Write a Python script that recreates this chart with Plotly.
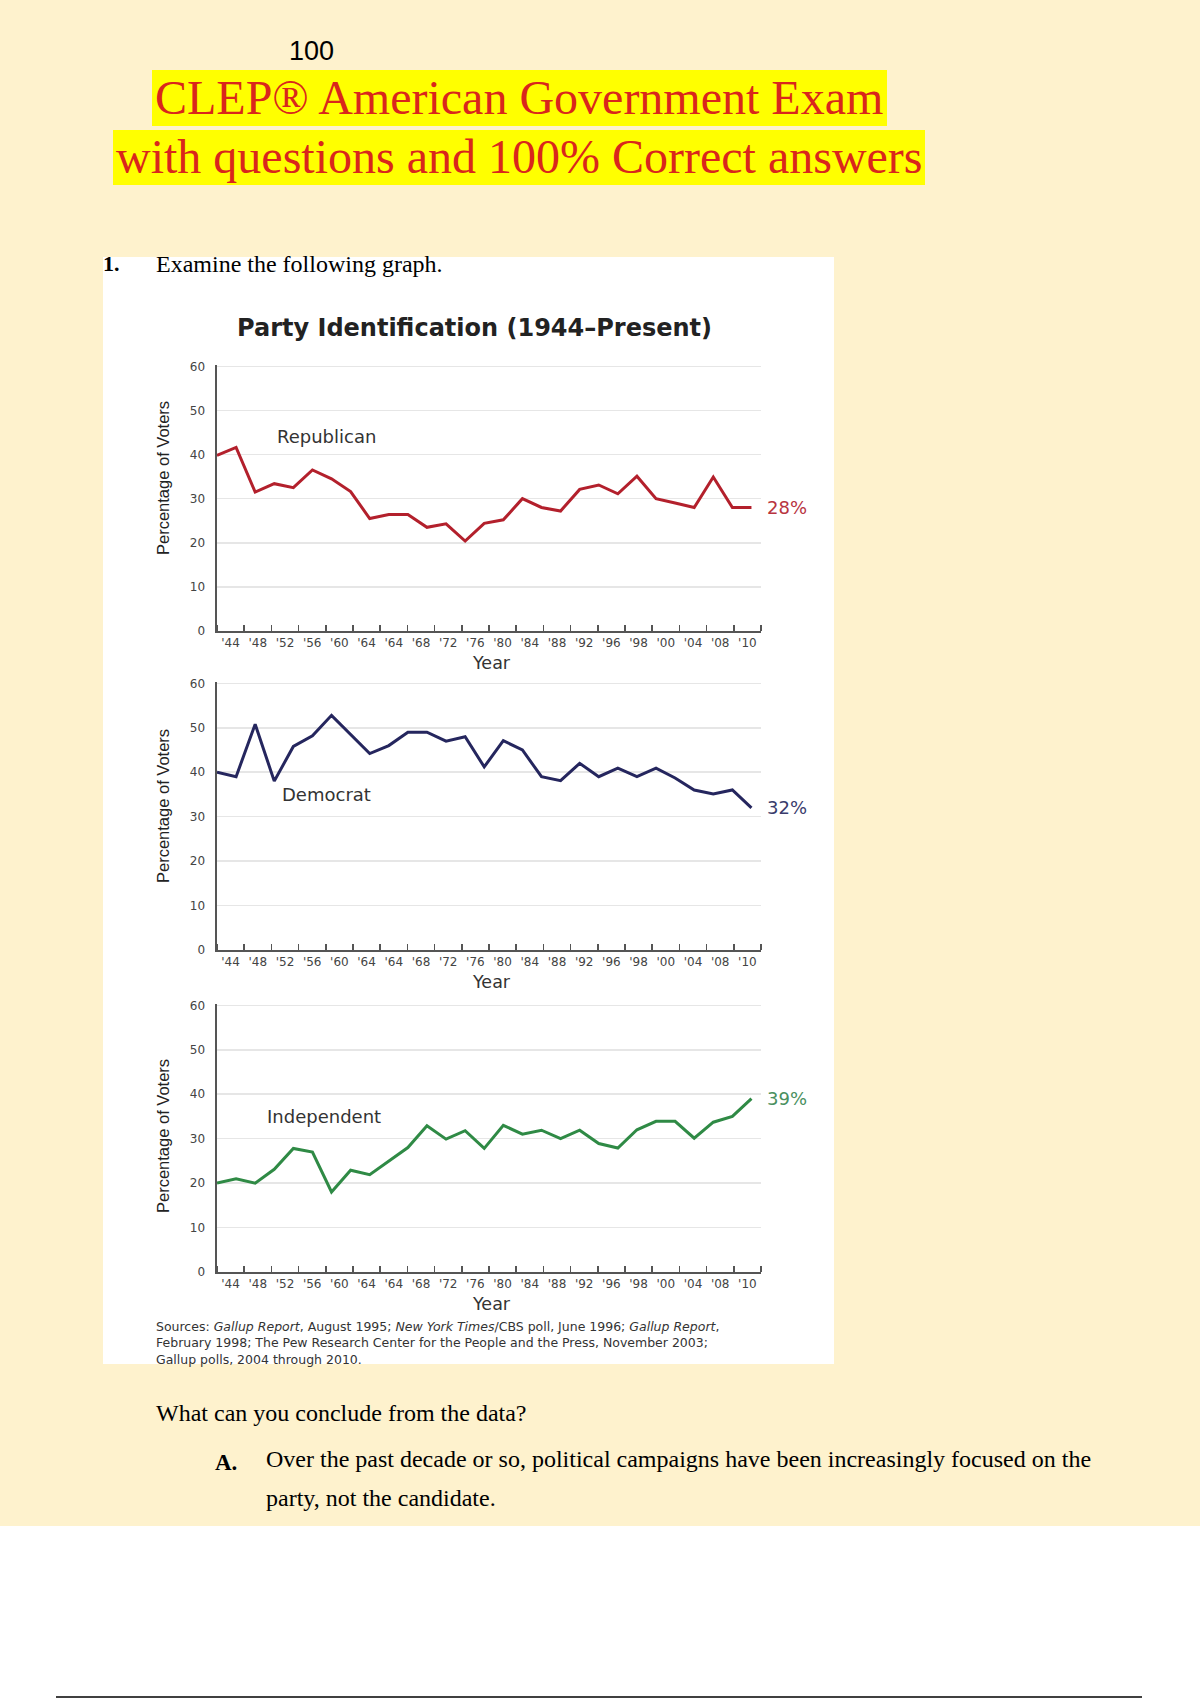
import plotly.graph_objects as go

W, H = 1200, 1700

# ---------------- data ----------------
year_labels = ["'44", "'48", "'52", "'56", "'60", "'64", "'64", "'68", "'72", "'76",
               "'80", "'84", "'88", "'92", "'96", "'98", "'00", "'04", "'08", "'10"]

republican = [39.8, 41.6, 31.5, 33.4, 32.5, 36.5, 34.5, 31.6, 25.5, 26.4,
              26.4, 23.5, 24.3, 20.4, 24.4, 25.2, 30.0, 28.0, 27.2, 32.1,
              33.1, 31.1, 35.1, 30.0, 29.0, 28.0, 34.9, 28.0, 28.0]
democrat = [40.0, 39.0, 50.8, 38.0, 45.8, 48.2, 52.8, 48.5, 44.2, 46.0,
            49.0, 49.0, 47.0, 48.0, 41.2, 47.1, 45.0, 39.0, 38.1, 42.0,
            39.0, 40.9, 39.0, 40.9, 38.7, 36.0, 35.1, 36.0, 32.0]
independent = [20.0, 21.0, 20.0, 23.1, 27.8, 27.0, 18.0, 22.9, 21.9, 24.9,
               28.0, 32.9, 29.9, 31.8, 27.8, 33.0, 31.0, 31.9, 30.0, 31.9,
               28.9, 27.9, 32.0, 33.9, 33.9, 30.1, 33.7, 35.0, 39.0]

series_names = ["Republican", "Democrat", "Independent"]
y_ticks = [0, 10, 20, 30, 40, 50, 60]

sources_lines = [
    "Sources: <i>Gallup Report</i>, August 1995; <i>New York Times</i>/CBS poll, June 1996; <i>Gallup Report</i>,",
    "February 1998; The Pew Research Center for the People and the Press, November 2003;",
    "Gallup polls, 2004 through 2010.",
]

# ---------------- styling ----------------
CREAM = "#fef2cd"
colors = ["#b3202c", "#25265e", "#2f8a45"]
label_colors = ["#b8343f", "#3a3c6c", "#4a9060"]
SANS = "DejaVu Sans"
SERIF = "Liberation Serif"

x_span = 28.5
n_lab = len(year_labels)
step = x_span / n_lab
label_pos = [(i + 0.5) * step for i in range(n_lab)]
bound_pos = [i * step for i in range(n_lab + 1)]

x_dom = [217 / W, 761 / W]
# (pixel of value 0, pixel of value 60)
y_px = [(631, 365), (950, 682), (1272, 1004)]


def py(y):
    return 1 - y / H


def px(x):
    return x / W


fig = go.Figure()
all_series = [republican, democrat, independent]
for i, (vals, name) in enumerate(zip(all_series, series_names)):
    sfx = "" if i == 0 else str(i + 1)
    fig.add_trace(go.Scatter(
        x=list(range(len(vals))), y=vals, mode="lines", name=name,
        line=dict(color=colors[i], width=3), xaxis="x" + sfx, yaxis="y" + sfx,
        showlegend=False, hoverinfo="skip"))

layout = dict(
    width=W, height=H, margin=dict(l=0, r=0, t=0, b=0, pad=0, autoexpand=False),
    paper_bgcolor=CREAM, plot_bgcolor="white", showlegend=False,
)

for i in range(3):
    sfx = "" if i == 0 else str(i + 1)
    y0, y60 = y_px[i]
    layout["xaxis" + sfx] = dict(
        domain=x_dom, range=[0, x_span], anchor="y" + sfx, automargin=False,
        tickmode="array", tickvals=label_pos, ticktext=year_labels, ticks="",
        tickfont=dict(family=SANS, size=12, color="#444"),
        showgrid=False, zeroline=False, showline=True, linecolor="#555", linewidth=2,
        minor=dict(tickmode="array", tickvals=bound_pos, ticks="inside", ticklen=6,
                   tickwidth=1.5, tickcolor="#555", showgrid=False),
        fixedrange=True,
    )
    layout["yaxis" + sfx] = dict(
        domain=[py(y0), py(y60)], range=[0, 60.3], anchor="x" + sfx, automargin=False,
        tickmode="array", tickvals=y_ticks, ticks="", ticklabelstandoff=7,
        tickfont=dict(family=SANS, size=12, color="#444"),
        showgrid=True, gridcolor="#e6e6e6", gridwidth=1.5, zeroline=False,
        showline=True, linecolor="#555", linewidth=2.5, fixedrange=True,
    )

fig.update_layout(**layout)

shapes = [
    dict(type="rect", xref="paper", yref="paper", x0=px(103), x1=px(834), y0=py(1364), y1=py(257),
         fillcolor="white", line=dict(width=0), layer="below"),
    dict(type="rect", xref="paper", yref="paper", x0=px(152), x1=px(887), y0=py(126), y1=py(70),
         fillcolor="#ffff00", line=dict(width=0), layer="below"),
    dict(type="rect", xref="paper", yref="paper", x0=px(113), x1=px(925), y0=py(185), y1=py(130),
         fillcolor="#ffff00", line=dict(width=0), layer="below"),
    dict(type="rect", xref="paper", yref="paper", x0=0, x1=1, y0=0, y1=py(1526),
         fillcolor="white", line=dict(width=0), layer="below"),
    dict(type="line", xref="paper", yref="paper", x0=px(56), x1=px(1142), y0=py(1697), y1=py(1697),
         line=dict(color="black", width=1.5)),
]
fig.update_layout(shapes=shapes)

ann = []


def A(text, x, y, size, family, color="black", xanchor="center", **kw):
    ann.append(dict(text=text, x=px(x), y=py(y), xref="paper", yref="paper",
                    xanchor=xanchor, yanchor="middle", showarrow=False,
                    font=dict(family=family, size=size, color=color), **kw))


A("100", 311, 51, 27, "Liberation Sans Narrow, Liberation Sans")
A("CLEP® American Government Exam", 519, 98, 48, SERIF, "#d9261c")
A("with questions and 100% Correct answers", 519, 157, 48, SERIF, "#d9261c")
A("<b>1.</b>", 101, 264, 22, SERIF, xanchor="left")
A("Examine the following graph.", 154, 264, 24, SERIF, xanchor="left")
A("<b>Party Identification (1944–Present)</b>", 474, 328, 24, SANS, "#222")

ytitle_y = [478, 806, 1136]
for i in range(3):
    y0, _ = y_px[i]
    A("Year", 491, y0 + 32, 17.5, SANS, "#333")
    A("Percentage of Voters", 163, ytitle_y[i], 16.5, "Liberation Sans", "#222", textangle=-90)

# series name labels (data coordinates)
name_pos = [(5.75, 44.0), (5.75, 35.0), (5.6, 35.0)]
for i, name in enumerate(series_names):
    sfx = "" if i == 0 else str(i + 1)
    ann.append(dict(text=name, x=name_pos[i][0], y=name_pos[i][1], xref="x" + sfx, yref="y" + sfx,
                    xanchor="center", yanchor="middle", showarrow=False,
                    font=dict(family=SANS, size=18, color="#333")))
    vals = all_series[i]
    ann.append(dict(text=f"{round(vals[-1])}%", x=len(vals) - 1, y=vals[-1],
                    xref="x" + sfx, yref="y" + sfx, xanchor="left", yanchor="middle",
                    xshift=14, showarrow=False,
                    font=dict(family=SANS, size=18, color=label_colors[i])))

A("<br>".join(sources_lines), 154, 1343, 12.5, SANS, "#333", xanchor="left", align="left")

A("What can you conclude from the data?", 154, 1413, 24, SERIF, xanchor="left")
A("<b>A.</b>", 213, 1462, 23, SERIF, xanchor="left")
A("Over the past decade or so, political campaigns have been increasingly focused on the",
  264, 1459, 24, SERIF, xanchor="left")
A("party, not the candidate.", 264, 1498, 24, SERIF, xanchor="left")

fig.update_layout(annotations=ann)
fig.write_html(
    "out.html",
    config={"displayModeBar": False, "staticPlot": True},
    post_script="document.body.style.margin='0';document.body.style.padding='0';"
                "document.body.style.overflow='hidden';",
)
